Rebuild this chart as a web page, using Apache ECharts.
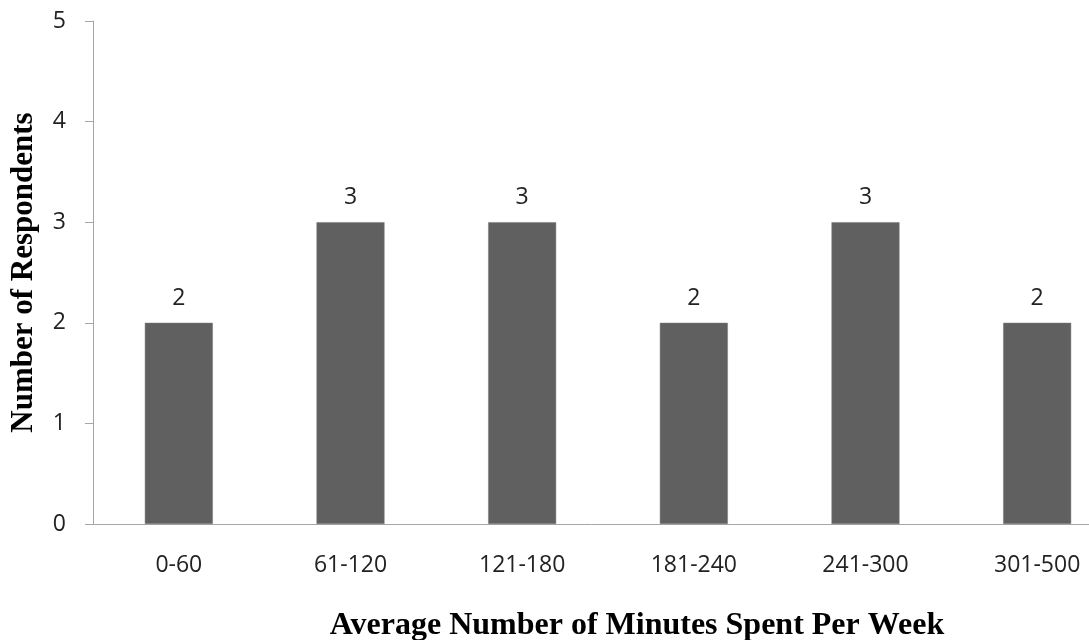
<!DOCTYPE html>
<html>
<head>
<meta charset="utf-8">
<script src="https://cdn.jsdelivr.net/npm/echarts@6/dist/echarts.min.js"></script>
<style>
  html, body { margin: 0; padding: 0; background: #fff; }
  #chart { width: 1089px; height: 640px; }
</style>
</head>
<body>
<div id="chart"></div>
<script>
// Weekly minutes bands and respondent counts
const categories = ['0-60', '61-120', '121-180', '181-240', '241-300', '301-500'];
const respondents = [2, 3, 3, 2, 3, 2];
const yTicks = [0, 1, 2, 3, 4, 5];

const labelFont = '"Open Sans", "Noto Sans", sans-serif';
const titleFont = '"Liberation Serif", "DejaVu Serif", serif';

const chart = echarts.init(document.getElementById('chart'));
chart.setOption({
  animation: false,
  grid: { left: 93, right: -34, top: 21, bottom: 116, outerBoundsMode: 'none', containLabel: false },
  xAxis: {
    type: 'category',
    data: categories,
    axisLine: { lineStyle: { color: '#a6a6a6', width: 1 } },
    axisTick: { show: false },
    axisLabel: { color: '#222', fontFamily: labelFont, fontSize: 23, margin: 30 },
    name: 'Average Number of Minutes Spent Per Week',
    nameLocation: 'middle',
    nameGap: 86,
    nameTextStyle: {
      color: '#000', fontFamily: titleFont, fontWeight: 'bold', fontSize: 32,
      padding: [0, 0, 0, 58]
    }
  },
  yAxis: {
    type: 'value',
    min: yTicks[0],
    max: yTicks[yTicks.length - 1],
    interval: 1,
    axisLine: { show: true, lineStyle: { color: '#a6a6a6', width: 1 } },
    axisTick: { show: true, inside: false, length: 8, lineStyle: { color: '#a6a6a6' } },
    splitLine: { show: false },
    axisLabel: { color: '#222', fontFamily: labelFont, fontSize: 23, margin: 27 },
    name: 'Number of Respondents',
    nameLocation: 'middle',
    nameGap: 54,
    nameTextStyle: { color: '#000', fontFamily: titleFont, fontWeight: 'bold', fontSize: 31 }
  },
  series: [{
    type: 'bar',
    data: respondents,
    barWidth: 68,
    itemStyle: { color: '#606060', borderColor: '#7a7a7a', borderWidth: 0.5 },
    label: {
      show: true,
      position: 'top',
      distance: 13,
      color: '#222',
      fontFamily: labelFont,
      fontSize: 23
    }
  }]
});
</script>
</body>
</html>
